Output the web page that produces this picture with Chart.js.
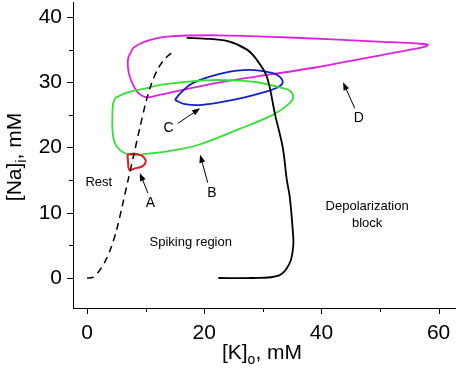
<!DOCTYPE html>
<html>
<head>
<meta charset="utf-8">
<script src="https://cdn.jsdelivr.net/npm/chart.js@4"></script>
<style>
  html, body { margin: 0; padding: 0; background: #fff; }
  #wrap { width: 456px; height: 370px; position: relative; }
</style>
</head>
<body>
<div id="wrap"><canvas id="chartCanvas"></canvas></div>
<script>
// [K]o values (x) and [Na]i values (y) for each curve
var restK = [0, 1, 2, 3, 4, 5, 6, 7, 8, 9, 10, 11, 12, 13, 14, 15];
var restNa = [0, 0.1, 1, 2.4, 4.4, 7.2, 11, 15, 19, 23, 26.8, 29.8, 31.9, 33.3, 34.2, 34.8];

var blockK = [22.4, 28, 32.8, 34.6, 35.2, 35.1, 34.6, 34.1, 33.4, 32.1, 30.7, 29, 27.3, 24, 20, 17];
var blockNa = [0, 0, 0.4, 2.3, 5, 7.4, 12.4, 15, 20, 25, 30.8, 33.4, 35, 36.3, 36.7, 36.8];

var loopAK = [6.9, 7.0, 7.2, 8.2, 9.4, 10.0, 9.6, 8.5, 7.4, 6.9];
var loopANa = [18.9, 17.8, 16.6, 16.8, 17.1, 17.8, 18.6, 19.0, 19.0, 18.9];

var loopBK = [4.8, 4.4, 4.4, 5.2, 7.3, 10.8, 15, 19.3, 25.6, 31.7, 34.6, 35.2, 34.6, 33.4, 29, 24.9, 20, 16.4, 12.5, 10.2, 6.8, 4.8];
var loopBNa = [27.6, 26.5, 22, 20, 18.9, 19.1, 19.6, 20.5, 22.7, 25, 26.8, 27.8, 28.7, 29.1, 30.0, 30.3, 30.3, 30.0, 29.6, 29.1, 28.4, 27.6];

var loopCK = [15, 16.5, 19.3, 24.9, 29.5, 32.5, 33.4, 32.8, 31.7, 27.8, 23.2, 18.1, 15.9, 15];
var loopCNa = [27.3, 26.7, 26.5, 27.3, 28.3, 29.2, 30, 30.9, 31.4, 31.9, 31.4, 29.9, 28.3, 27.3];

var loopDK = [7.8, 7.0, 7.1, 7.7, 8.6, 10.2, 12.5, 22.2, 39.2, 50.5, 57, 58.2, 57, 50.5, 33.4, 22.2, 13.6, 10.8, 9, 7.8];
var loopDNa = [35.2, 33.6, 31.5, 29.9, 28.5, 27.7, 28.1, 29.9, 32.3, 34.2, 35.3, 35.7, 35.9, 36.2, 36.9, 37.2, 37, 36.5, 35.9, 35.2];

var xTicks = [0, 20, 40, 60];
var xMinorTicks = [10, 30, 50];
var yTicks = [0, 10, 20, 30, 40];
var yMinorTicks = [5, 15, 25, 35];

// text notes and arrows, in data units
var noteTexts = ['Rest', 'A', 'B', 'C', 'D', 'Spiking region', 'Depolarization', 'block'];
var noteK = [2.0, 10.8, 21.3, 13.9, 46.4, 17.7, 47.8, 47.8];
var noteNa = [14.7, 11.5, 13.0, 23.0, 24.5, 5.5, 11.0, 8.4];
var arrowFromK = [10.4, 20.6, 15.5, 45.7];
var arrowFromNa = [13.0, 14.6, 23.7, 26.0];
var arrowToK = [9.0, 19.3, 19.3, 43.7];
var arrowToNa = [16.1, 18.9, 26.0, 30.0];

function toPoints(xs, ys) {
  return xs.map(function(x, i) { return { x: x, y: ys[i] }; });
}

function curve(label, xs, ys, color, width, dash, tension) {
  return {
    label: label,
    data: toPoints(xs, ys),
    showLine: true,
    borderColor: color,
    borderWidth: width,
    borderDash: dash || [],
    pointRadius: 0,
    tension: tension,
    fill: false
  };
}

var FONT = 'Liberation Sans, Arial, sans-serif';

// drop the label overhang padding so the plot area fills the canvas
function noPad(s) {
  s.paddingTop = 0;
  s.paddingBottom = 0;
  s.paddingLeft = 0;
  s.paddingRight = 0;
}

var extrasPlugin = {
  id: 'extras',
  afterDraw: function(chart) {
    var ctx = chart.ctx;
    var xs = chart.scales.x, ys = chart.scales.y;
    var area = chart.chartArea;
    ctx.save();
    ctx.strokeStyle = '#000';
    ctx.lineWidth = 1;

    // tick marks (outside)
    ctx.beginPath();
    xTicks.forEach(function(v) { var p = Math.round(xs.getPixelForValue(v)) + 0.5; ctx.moveTo(p, area.bottom); ctx.lineTo(p, area.bottom + 6); });
    xMinorTicks.forEach(function(v) { var p = Math.round(xs.getPixelForValue(v)) + 0.5; ctx.moveTo(p, area.bottom); ctx.lineTo(p, area.bottom + 4); });
    yTicks.forEach(function(v) { var p = Math.round(ys.getPixelForValue(v)) + 0.5; ctx.moveTo(area.left, p); ctx.lineTo(area.left - 6, p); });
    yMinorTicks.forEach(function(v) { var p = Math.round(ys.getPixelForValue(v)) + 0.5; ctx.moveTo(area.left, p); ctx.lineTo(area.left - 4, p); });
    ctx.stroke();

    // notes
    ctx.fillStyle = '#000';
    ctx.textAlign = 'center';
    ctx.textBaseline = 'middle';
    noteTexts.forEach(function(t, i) {
      ctx.font = (t.length === 1 ? '14px ' : '13px ') + FONT;
      ctx.fillText(t, xs.getPixelForValue(noteK[i]), ys.getPixelForValue(noteNa[i]));
    });

    // arrows
    arrowFromK.forEach(function(k, i) {
      var x1 = xs.getPixelForValue(k), y1 = ys.getPixelForValue(arrowFromNa[i]);
      var x2 = xs.getPixelForValue(arrowToK[i]), y2 = ys.getPixelForValue(arrowToNa[i]);
      var a = Math.atan2(y2 - y1, x2 - x1);
      ctx.beginPath();
      ctx.moveTo(x1, y1);
      ctx.lineTo(x2 - 5 * Math.cos(a), y2 - 5 * Math.sin(a));
      ctx.stroke();
      ctx.beginPath();
      ctx.moveTo(x2, y2);
      ctx.lineTo(x2 - 8 * Math.cos(a) + 3 * Math.sin(a), y2 - 8 * Math.sin(a) - 3 * Math.cos(a));
      ctx.lineTo(x2 - 8 * Math.cos(a) - 3 * Math.sin(a), y2 - 8 * Math.sin(a) + 3 * Math.cos(a));
      ctx.closePath();
      ctx.fill();
    });

    // axis titles with subscripts
    ctx.textAlign = 'left';
    ctx.textBaseline = 'alphabetic';
    function subTitle(parts, cx, cy, rot) {
      ctx.save();
      ctx.translate(cx, cy);
      ctx.rotate(rot);
      var big = '21px ' + FONT, small = '14px ' + FONT;
      ctx.font = big; var w1 = ctx.measureText(parts[0]).width, w3 = ctx.measureText(parts[2]).width;
      ctx.font = small; var w2 = ctx.measureText(parts[1]).width;
      var x = -(w1 + w2 + w3) / 2;
      ctx.font = big; ctx.fillText(parts[0], x, 7);
      ctx.font = small; ctx.fillText(parts[1], x + w1, 12);
      ctx.font = big; ctx.fillText(parts[2], x + w1 + w2, 7);
      ctx.restore();
    }
    subTitle(['[K]', 'o', ', mM'], 262, 352, 0);
    subTitle(['[Na]', 'i', ', mM'], 14, 157, -Math.PI / 2);
    ctx.restore();
  }
};

var ctx = document.getElementById('chartCanvas');
new Chart(ctx, {
  type: 'scatter',
  data: {
    datasets: [
      curve('Rest', restK, restNa, '#000000', 1.5, [7, 5], 0.3),
      curve('Block', blockK, blockNa, '#000000', 1.8, null, 0.35),
      curve('A', loopAK, loopANa, '#e8141e', 2, null, 0.4),
      curve('B', loopBK, loopBNa, '#33e133', 1.8, null, 0.35),
      curve('C', loopCK, loopCNa, '#1220c8', 1.8, null, 0.4),
      curve('D', loopDK, loopDNa, '#e020e0', 1.8, null, 0.3)
    ]
  },
  options: {
    responsive: true,
    maintainAspectRatio: false,
    animation: false,
    layout: { padding: { top: 2, right: 1, left: 0, bottom: 0 } },
    plugins: {
      legend: { display: false },
      tooltip: { enabled: false }
    },
    scales: {
      x: {
        type: 'linear',
        min: -2.4,
        max: 62.8,
        afterFit: function(s) { s.height = 62; noPad(s); },
        afterBuildTicks: function(s) { s.ticks = xTicks.map(function(v) { return { value: v }; }); },
        grid: { display: false },
        border: { display: true, color: '#000', width: 1 },
        ticks: { color: '#000', font: { family: FONT, size: 21 }, padding: 5, maxRotation: 0 }
      },
      y: {
        type: 'linear',
        min: -4.6,
        max: 42.3,
        afterFit: function(s) { s.width = 73; noPad(s); },
        afterBuildTicks: function(s) { s.ticks = yTicks.map(function(v) { return { value: v }; }); },
        grid: { display: false },
        border: { display: true, color: '#000', width: 1 },
        ticks: { color: '#000', font: { family: FONT, size: 21 }, padding: 3 }
      }
    }
  },
  plugins: [extrasPlugin]
});
</script>
</body>
</html>
